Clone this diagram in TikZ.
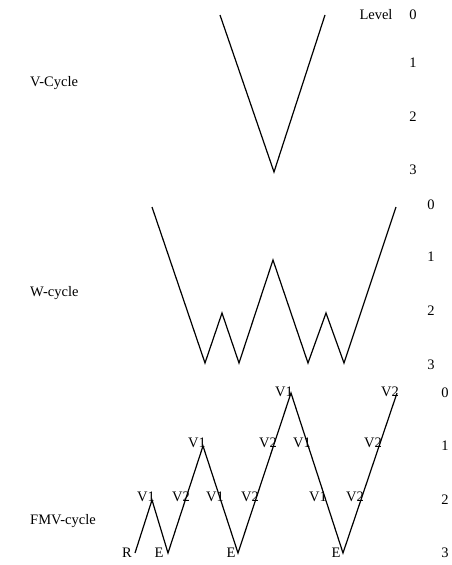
\documentclass[tikz,border=0pt]{standalone}
\usepackage{fontspec}
\setmainfont{Liberation Serif}
\begin{document}
\begin{tikzpicture}[x=1pt,y=-1pt,
  lbl/.style={inner sep=0pt,font=\fontsize{14.5}{16}\selectfont},
  cyc/.style={line width=1.2pt,line join=miter}]
\useasboundingbox (0,0) rectangle (452,565);
% V-cycle
\node[lbl,anchor=west] (tv) at (30,83) {V-Cycle};
\node[lbl] (lev) at (376,15) {Level};
\node[lbl] (a0) at (413,15) {0};
\node[lbl] (a1) at (413,63) {1};
\node[lbl] (a2) at (413,117) {2};
\node[lbl] (a3) at (413,170) {3};
\coordinate (v1) at (220,15);
\coordinate (v2) at (274,172);
\coordinate (v3) at (325,15);
\draw[cyc] (v1) -- (v2) -- (v3);
% W-cycle
\node[lbl,anchor=west] (tw) at (30,293) {W-cycle};
\node[lbl] (b0) at (431,205) {0};
\node[lbl] (b1) at (431,257) {1};
\node[lbl] (b2) at (431,311) {2};
\node[lbl] (b3) at (431,365) {3};
\coordinate (w1) at (152,207);
\coordinate (w2) at (205,363);
\coordinate (w3) at (222,313);
\coordinate (w4) at (239,363);
\coordinate (w5) at (273,260);
\coordinate (w6) at (308,363);
\coordinate (w7) at (326,313);
\coordinate (w8) at (344,363);
\coordinate (w9) at (396,207);
\draw[cyc] (w1) -- (w2) -- (w3) -- (w4) -- (w5) -- (w6) -- (w7) -- (w8) -- (w9);
% FMV-cycle
\node[lbl,anchor=west] (tf) at (30,521) {FMV-cycle};
\node[lbl] (c0) at (445,393) {0};
\node[lbl] (c1) at (445,446) {1};
\node[lbl] (c2) at (445,500) {2};
\node[lbl] (c3) at (445,553) {3};
\coordinate (f1) at (135,553);
\coordinate (f2) at (152,500);
\coordinate (f3) at (168,553);
\coordinate (f4) at (203,446);
\coordinate (f5) at (238,553);
\coordinate (f6) at (291,393);
\coordinate (f7) at (343,553);
\coordinate (f8) at (397,393);
\draw[cyc] (f1) -- (f2) -- (f3) -- (f4) -- (f5) -- (f6) -- (f7) -- (f8);
\node[lbl] (r) at (127,553) {R};
\node[lbl] (e1) at (159,553) {E};
\node[lbl] (e2) at (231,553) {E};
\node[lbl] (e3) at (336,553) {E};
\node[lbl] (l21) at (146,497) {V1};
\node[lbl] (l22) at (181,497) {V2};
\node[lbl] (l23) at (215,497) {V1};
\node[lbl] (l24) at (250,497) {V2};
\node[lbl] (l25) at (318,497) {V1};
\node[lbl] (l26) at (355,497) {V2};
\node[lbl] (l11) at (197,443) {V1};
\node[lbl] (l12) at (268,443) {V2};
\node[lbl] (l13) at (302,443) {V1};
\node[lbl] (l14) at (373,443) {V2};
\node[lbl] (l01) at (284,392) {V1};
\node[lbl] (l02) at (390,392) {V2};
\end{tikzpicture}
\end{document}
